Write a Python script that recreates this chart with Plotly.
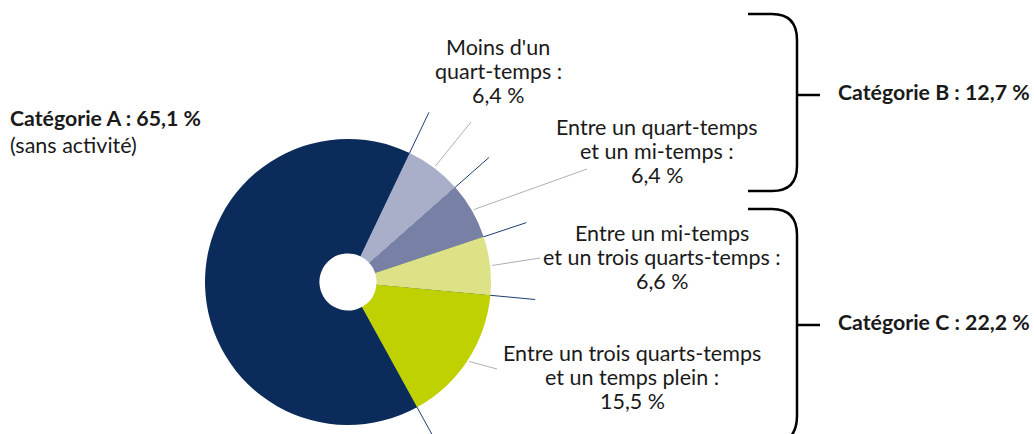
import numpy as np
import plotly.graph_objects as go

# data
slices = ["Moins d'un quart-temps", "Entre un quart-temps et un mi-temps",
          "Entre un mi-temps et un trois quarts-temps",
          "Entre un trois quarts-temps et un temps plein",
          "Catégorie A (sans activité)"]
values = [6.4, 6.4, 6.6, 15.5, 65.1]
colors = ["#a9aec9", "#7880a5", "#dde287", "#bfd100", "#0b2b5b"]
slice_labels = [["Moins d'un", "quart-temps :", "6,4 %"],
                ["Entre un quart-temps", "et un mi-temps :", "6,4 %"],
                ["Entre un mi-temps", "et un trois quarts-temps :", "6,6 %"],
                ["Entre un trois quarts-temps", "et un temps plein :", "15,5 %"]]
cat_a = ["<b>Catégorie A : 65,1 %</b>", "(sans activité)"]
cat_b = "<b>Catégorie B : 12,7 %</b>"
cat_c = "<b>Catégorie C : 22,2 %</b>"

W, H = 1034, 434
cx, cy, R = 348, 282, 143
hole = 0.2
rot = 25.5
FONT = "Lato"
TXT = "#1a1a1a"
FS = 21.5
FB = 21.3
LH = 24

fig = go.Figure()
fig.add_trace(go.Pie(
    values=values, labels=slices, sort=False, direction="clockwise",
    rotation=rot, hole=hole, textinfo="none", hoverinfo="label+value",
    marker=dict(colors=colors, line=dict(width=0)),
    domain=dict(x=[(cx - R) / W, (cx + R) / W], y=[(H - cy - R) / H, (H - cy + R) / H]),
    showlegend=False))

# boundary angles (clockwise from 12 o'clock)
bounds = rot + 360 * np.concatenate([[0], np.cumsum(values)]) / sum(values)
bounds = bounds[:-1]
mids = rot + 360 * (np.cumsum(values) - np.array(values) / 2) / sum(values)

def pt(ang, r):
    a = np.radians(ang)
    return cx + r * np.sin(a), cy - r * np.cos(a)

for b in bounds:
    x0, y0 = pt(b, R * hole)
    x1, y1 = pt(b, 188)
    fig.add_trace(go.Scatter(x=[x0, x1], y=[y0, y1], mode="lines",
                             line=dict(color="#1c3f73", width=1), hoverinfo="skip", showlegend=False))

# leader lines: label end points
leader_ends = [(471, 122), (587, 169), (540, 258), (497, 369)]
for m, (ex, ey) in zip(mids[:4], leader_ends):
    sx, sy = pt(m, R + 2)
    fig.add_trace(go.Scatter(x=[sx, ex], y=[sy, ey], mode="lines",
                             line=dict(color="#b0b0b0", width=1), hoverinfo="skip", showlegend=False))

def text(x, y, s, anchor="center", size=FS):
    fig.add_annotation(x=x, y=y, text=s, showarrow=False, xanchor=anchor, yanchor="middle",
                       font=dict(family=FONT, size=size, color=TXT))

label_pos = [(498, 47), (657, 127), (662, 233), (632, 353)]
for lines, (lx, ly) in zip(slice_labels, label_pos):
    for i, s in enumerate(lines):
        text(lx, ly + i * LH, s)

text(8, 118, cat_a[0], "left", FB)
text(8, 145, cat_a[1], "left")
text(836, 92, cat_b, "left", FB)
text(836, 322, cat_c, "left", FB)

# braces
brace = dict(type="path", xref="x", yref="y", line=dict(color="black", width=2.5))
fig.add_shape(path="M 748,14 L 772,14 Q 797,14 797,40 L 797,166 Q 797,191 772,191 L 748,191", **brace)
fig.add_shape(path="M 797,95 L 820,95", **brace)
fig.add_shape(path="M 748,209 L 772,209 Q 797,209 797,235 L 797,416 Q 797,440 775,446", **brace)
fig.add_shape(path="M 797,325 L 820,325", **brace)

fig.update_xaxes(range=[0, W], visible=False, fixedrange=True)
fig.update_yaxes(range=[H, 0], visible=False, fixedrange=True)
fig.update_layout(width=W, height=H, margin=dict(l=0, r=0, t=0, b=0),
                  paper_bgcolor="white", plot_bgcolor="white")

fig.write_html("out.html", config={"displayModeBar": False},
               post_script="document.body.style.margin='0';")
